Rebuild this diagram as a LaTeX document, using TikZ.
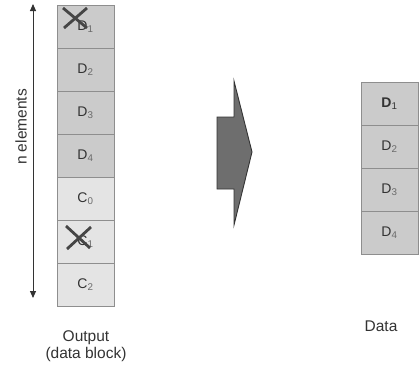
\documentclass[tikz,border=0pt]{standalone}
\usepackage{fontspec}
\setmainfont{Liberation Sans}
\usetikzlibrary{arrows.meta,positioning}
\definecolor{cellgray}{HTML}{CBCBCB}
\definecolor{checkgray}{HTML}{E4E4E4}
\definecolor{edgegray}{HTML}{8E8E8E}
\definecolor{textgray}{HTML}{333333}
\definecolor{subgray}{HTML}{6A6A6A}
\definecolor{crossgray}{HTML}{454545}
\definecolor{bigarrow}{HTML}{6E6E6E}
\newcommand{\lbl}[2]{#1\textsubscript{\color{subgray}#2}}

\tikzset{
  datacell/.style={draw=edgegray, fill=cellgray, line width=0.9pt, minimum width=57pt,
    minimum height=43pt, inner sep=0pt, outer sep=0pt, text=textgray,
    font=\fontsize{14}{16}\selectfont},
  checkcell/.style={datacell, fill=checkgray},
  cross/.style={crossgray, line width=2.8pt},
  caption/.style={text=textgray, align=center, font=\fontsize{15.5}{17}\selectfont}
}

\begin{document}
\begin{tikzpicture}[x=1pt, y=-1pt, >={Triangle[length=7pt,width=6pt]}]
  \useasboundingbox (0,0) rectangle (419,376);

  % output block
  \node[datacell, anchor=north] (d1) at (85.5,5) {\lbl{D}{1}};
  \node[datacell, below=0pt of d1] (d2) {\lbl{D}{2}};
  \node[datacell, below=0pt of d2] (d3) {\lbl{D}{3}};
  \node[datacell, below=0pt of d3] (d4) {\lbl{D}{4}};
  \node[checkcell, below=0pt of d4] (c0) {\lbl{C}{0}};
  \node[checkcell, below=0pt of c0] (c1) {\lbl{C}{1}};
  \node[checkcell, below=0pt of c1] (c2) {\lbl{C}{2}};

  % crossed out
  \draw[cross] (63,8) -- (87,28);
  \draw[cross] (87,8) -- (64,28);
  \draw[cross] (66,226) -- (90,248);
  \draw[cross] (91,227) -- (67,249);

  % n elements
  \coordinate (ntop) at (33,4);
  \coordinate (nbot) at (33,298);
  \draw[textgray, line width=0.9pt, <->] (ntop) -- (nbot);
  \node[caption, rotate=90] (nlabel) at (21,127) {n elements};

  % big arrow
  \filldraw[fill=bigarrow, draw=textgray, line width=0.9pt]
    (217,117) -- (234,117) -- (234,81) -- (252,152) -- (234,225) -- (234,189) -- (217,189) -- cycle;

  % data block
  \node[datacell, anchor=north] (r1) at (389.5,82) {\textbf{D}\textsubscript{1}};
  \node[datacell, below=0pt of r1] (r2) {\lbl{D}{2}};
  \node[datacell, below=0pt of r2] (r3) {\lbl{D}{3}};
  \node[datacell, below=0pt of r3] (r4) {\lbl{D}{4}};

  \node[caption] (outlabel) at (86,346) {Output\\(data block)};
  \node[caption] (datalabel) at (381,326) {Data};
\end{tikzpicture}
\end{document}
